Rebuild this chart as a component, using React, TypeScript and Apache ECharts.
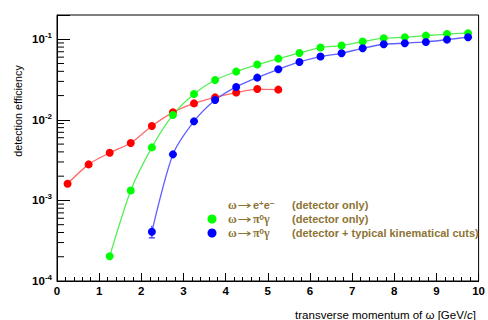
import React, { useEffect, useRef } from "react";
import * as echarts from "echarts";

// ---- data ----
const ptRed = [0.25, 0.75, 1.25, 1.75, 2.25, 2.75, 3.25, 3.75, 4.25, 4.75, 5.25];
const effEE = [0.00161, 0.0028, 0.0039, 0.00515, 0.00838, 0.0124, 0.016, 0.019, 0.0218, 0.0241, 0.0237];

const ptGreen = [1.25, 1.75, 2.25, 2.75, 3.25, 3.75, 4.25, 4.75, 5.25, 5.75, 6.25, 6.75, 7.25, 7.75, 8.25, 8.75, 9.25, 9.75];
const effPi0Det = [0.000203, 0.00133, 0.00455, 0.0115, 0.0209, 0.0312, 0.0397, 0.0485, 0.0575, 0.0676, 0.0789, 0.0835, 0.0936, 0.103, 0.106, 0.111, 0.116, 0.119];

const ptBlue = [2.25, 2.75, 3.25, 3.75, 4.25, 4.75, 5.25, 5.75, 6.25, 6.75, 7.25, 7.75, 8.25, 8.75, 9.25, 9.75];
const effPi0Cuts = [0.000408, 0.00373, 0.00958, 0.0176, 0.0256, 0.0334, 0.0424, 0.0523, 0.061, 0.067, 0.0773, 0.0867, 0.0892, 0.0926, 0.099, 0.106];

// error bars [x, low, high]
const blueErrors = [[2.25, 0.000343, 0.000485]];

const yMinorTicks = [
  2e-4, 3e-4, 4e-4, 5e-4, 6e-4, 7e-4, 8e-4, 9e-4,
  2e-3, 3e-3, 4e-3, 5e-3, 6e-3, 7e-3, 8e-3, 9e-3,
  2e-2, 3e-2, 4e-2, 5e-2, 6e-2, 7e-2, 8e-2, 9e-2,
];

// legend final states (base letters with superscripts)
const legendFinal = [
  [["e", "+"], ["e", "−"]],
  [["π", "0"], ["γ", ""]],
  [["π", "0"], ["γ", ""]],
];
const legendNotes = ["(detector only)", "(detector only)", "(detector + typical kinematical cuts)"];
const legendMarkers = [null, "#00ff00", "#0000ff"];

const xTitle = "transverse momentum of ω [GeV/";
const yTitle = "detection efficiency";

const FONT = "'Liberation Sans', Arial, Helvetica, sans-serif";
const SERIF = "'Liberation Serif', 'DejaVu Serif', serif";
const LEG = "#8c7434";

function zip(xs: number[], ys: number[]) {
  return xs.map((x, i) => [x, ys[i]]);
}

function finalRich(fin: string[][]) {
  return fin
    .map(([base, sup]) => {
      const b = /[πγ]/.test(base) ? "{g|" + base + "}" : "{t|" + base + "}";
      return sup ? b + "{u|" + sup + "}" : b;
    })
    .join("");
}

const legendRichStyles = {
  g: { fontSize: 12, lineHeight: 12, fontFamily: SERIF, fill: LEG, fontWeight: "bold" },
  t: { fontSize: 11, lineHeight: 12, fontFamily: FONT, fill: LEG, fontWeight: "bold" },
  u: { fontSize: 8, lineHeight: 12, fontFamily: FONT, fill: LEG, fontWeight: "bold", verticalAlign: "top", padding: [0, 0, 2, 0] },
};

export default function App() {
  const ref = useRef<HTMLDivElement>(null);
  useEffect(() => {
    const chart = echarts.init(ref.current!, null, { renderer: "svg" });
    const option: any = {
      animation: false,
      backgroundColor: "#ffffff",
      textStyle: { fontFamily: FONT },
      grid: {
        left: 57,
        right: 4,
        top: 15,
        bottom: 39,
        show: true,
        borderColor: "#000",
        borderWidth: 1,
        backgroundColor: "transparent",
      },
      xAxis: {
        type: "value",
        min: 0,
        max: 10,
        interval: 1,
        axisLine: { show: true, lineStyle: { color: "#000", width: 1 } },
        axisTick: { show: true, inside: true, length: 8, lineStyle: { color: "#000" } },
        minorTick: { show: true, splitNumber: 5, length: 4, lineStyle: { color: "#000" } },
        splitLine: { show: false },
        axisLabel: {
          color: "#000",
          fontWeight: "bold",
          fontSize: 11.5,
          fontFamily: FONT,
          margin: 4,
          showMaxLabel: true,
        },
      },
      yAxis: {
        type: "log",
        logBase: 10,
        min: 1e-4,
        max: 0.2,
        axisLine: { show: true, lineStyle: { color: "#000", width: 1 } },
        axisTick: { show: true, inside: true, length: 13, lineStyle: { color: "#000" } },
        splitLine: { show: false },
        axisLabel: {
          color: "#000",
          margin: 5,
          formatter: (v: number) => {
            const l = Math.log10(v);
            const e = Math.round(l);
            if (Math.abs(l - e) > 1e-6) return "";
            return "{b|10}{s|" + e + "}";
          },
          rich: {
            b: { fontSize: 11.5, fontWeight: "bold", fontFamily: FONT, color: "#000" },
            s: { fontSize: 8, fontWeight: "bold", fontFamily: FONT, color: "#000", verticalAlign: "top", padding: [0, 0, 7, 0] },
          },
        },
      },
      series: [
        {
          type: "custom",
          name: "yminor",
          silent: true,
          z: 1,
          data: yMinorTicks.map((v) => [0, v]),
          renderItem: (params: any, api: any) => {
            const p = api.coord([0, api.value(1)]);
            return {
              type: "line",
              shape: { x1: p[0], y1: p[1], x2: p[0] + 7, y2: p[1] },
              style: { stroke: "#000", lineWidth: 1 },
            };
          },
        },
        {
          type: "line",
          name: "ee",
          data: zip(ptRed, effEE),
          smooth: 0.25,
          symbol: "circle",
          symbolSize: 8,
          itemStyle: { color: "#ff0000" },
          lineStyle: { color: "#ff6a6a", width: 1.3 },
          z: 3,
        },
        {
          type: "line",
          name: "pi0det",
          data: zip(ptGreen, effPi0Det),
          smooth: 0.25,
          symbol: "circle",
          symbolSize: 8,
          itemStyle: { color: "#00ff00" },
          lineStyle: { color: "#55ee55", width: 1.3 },
          z: 3,
        },
        {
          type: "custom",
          name: "blueErr",
          silent: true,
          z: 2,
          data: blueErrors,
          renderItem: (params: any, api: any) => {
            const lo = api.coord([api.value(0), api.value(1)]);
            const hi = api.coord([api.value(0), api.value(2)]);
            return {
              type: "group",
              children: [
                { type: "line", shape: { x1: lo[0], y1: lo[1], x2: hi[0], y2: hi[1] }, style: { stroke: "#5050ff", lineWidth: 1.5 } },
                { type: "line", shape: { x1: lo[0] - 3, y1: lo[1], x2: lo[0] + 3, y2: lo[1] }, style: { stroke: "#5050ff", lineWidth: 1.5 } },
              ],
            };
          },
        },
        {
          type: "line",
          name: "pi0cuts",
          data: zip(ptBlue, effPi0Cuts),
          smooth: 0.25,
          symbol: "circle",
          symbolSize: 8,
          itemStyle: { color: "#0000ff" },
          lineStyle: { color: "#6060ff", width: 1.3 },
          z: 3,
        },
      ],
      graphic: [
        {
          type: "text",
          x: 18,
          y: 111,
          rotation: Math.PI / 2,
          style: {
            text: yTitle,
            fill: "#000",
            font: "10.8px " + FONT,
            textAlign: "center",
            textVerticalAlign: "middle",
          },
        },
        {
          type: "text",
          x: 476,
          y: 315,
          style: {
            text: "{a|" + xTitle + "}{i|c}{a|]}",
            textAlign: "right",
            textVerticalAlign: "middle",
            rich: {
              a: { fontSize: 11.5, fontFamily: FONT, fill: "#000" },
              i: { fontSize: 11.5, fontFamily: FONT, fontStyle: "italic", fill: "#000" },
            },
          },
        },
        ...legendFinal.flatMap((fin, i) => {
          const y = 205 + i * 14;
          const items: any[] = [
            {
              type: "text",
              x: 228,
              y,
              style: { text: "ω", fill: LEG, font: "bold 12px " + SERIF, lineHeight: 12, textVerticalAlign: "middle" },
            },
            {
              type: "text",
              x: 237,
              y,
              scaleX: 1.55,
              style: { text: "→", fill: LEG, font: "11px 'DejaVu Sans', sans-serif", lineHeight: 11, textVerticalAlign: "middle" },
            },
            {
              type: "text",
              x: 253,
              y,
              style: { text: finalRich(fin), textVerticalAlign: "middle", rich: legendRichStyles },
            },
            { type: "text", x: 292, y, style: { text: legendNotes[i], fill: LEG, font: "bold 11px " + FONT, lineHeight: 12, textVerticalAlign: "middle" } },
          ];
          if (legendMarkers[i]) {
            items.push({ type: "circle", shape: { cx: 212, cy: y, r: 4.5 }, style: { fill: legendMarkers[i] } });
          }
          return items;
        }),
      ],
    };
    chart.setOption(option);
    return () => chart.dispose();
  }, []);
  return <div ref={ref} style={{ position: "absolute", left: 0, top: 0, width: 488, height: 320 }} />;
}
